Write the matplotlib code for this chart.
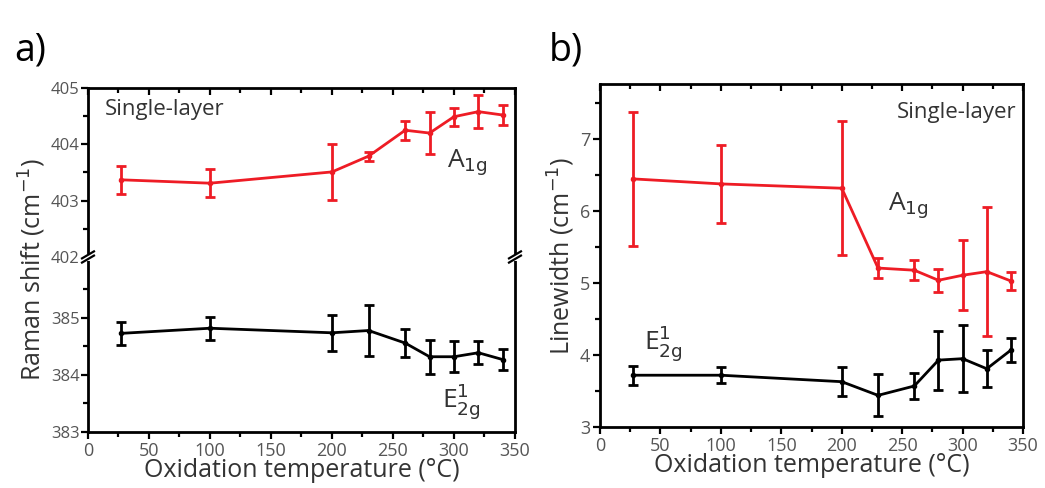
import numpy as np
import matplotlib.pyplot as plt

plt.rcParams['font.family'] = ['Open Sans', 'DejaVu Sans']

# temperaturas de oxidacion
T = [27, 100, 200, 230, 260, 280, 300, 320, 340]

# a) Raman shift
a1g_shift = [403.37, 403.31, 403.51, 403.79, 404.25, 404.20, 404.49, 404.58, 404.52]
a1g_shift_err = [0.25, 0.25, 0.50, 0.08, 0.17, 0.37, 0.16, 0.29, 0.17]
e2g_shift = [384.73, 384.82, 384.74, 384.78, 384.56, 384.32, 384.32, 384.39, 384.27]
e2g_shift_err = [0.20, 0.20, 0.32, 0.44, 0.24, 0.30, 0.27, 0.20, 0.19]

# b) Linewidth
a1g_width = [6.45, 6.38, 6.32, 5.21, 5.18, 5.04, 5.11, 5.16, 5.03]
a1g_width_err = [0.93, 0.54, 0.93, 0.14, 0.14, 0.16, 0.49, 0.90, 0.12]
e2g_width = [3.72, 3.72, 3.63, 3.44, 3.57, 3.93, 3.95, 3.81, 4.07]
e2g_width_err = [0.13, 0.11, 0.20, 0.29, 0.18, 0.41, 0.47, 0.26, 0.17]

RED = '#ee1c25'
TXT = '#333333'
TICK = '#555555'
LW = 2.0
LAB = 18

fig = plt.figure(figsize=(10.45, 4.88), dpi=100)

ax_top = fig.add_axes([0.0842, 0.4734, 0.4086, 0.3463])
ax_bot = fig.add_axes([0.0842, 0.1148, 0.4086, 0.3586])
ax_b = fig.add_axes([0.5742, 0.125, 0.4048, 0.703])


def errline(ax, y, e, color):
    ax.errorbar(T, y, yerr=e, color=color, lw=LW, elinewidth=LW, capsize=3.5,
                capthick=LW, marker='o', ms=3, clip_on=False, zorder=3)


errline(ax_top, a1g_shift, a1g_shift_err, RED)
errline(ax_bot, e2g_shift, e2g_shift_err, 'black')
errline(ax_b, a1g_width, a1g_width_err, RED)
errline(ax_b, e2g_width, e2g_width_err, 'black')

for ax in (ax_top, ax_bot, ax_b):
    ax.set_xlim(0, 350)
    ax.set_xticks(np.arange(0, 351, 50))
    ax.set_xticks(np.arange(25, 350, 50), minor=True)
    for s in ax.spines.values():
        s.set_linewidth(LW)
    ax.tick_params(which='both', width=1.6, labelsize=13, labelcolor=TICK, pad=2)
    ax.tick_params(which='major', length=5)
    ax.tick_params(which='minor', length=3.5)

# eje roto (panel a)
ax_top.set_ylim(402, 405)
ax_top.set_yticks([402, 403, 404, 405])
ax_top.set_yticks([402.5, 403.5, 404.5], minor=True)
ax_top.spines['bottom'].set_visible(False)
ax_top.tick_params(axis='x', which='both', bottom=False, labelbottom=False, top=True)
ax_top.tick_params(axis='y', which='both', right=False, direction='out')
ax_top.tick_params(axis='y', labelsize=12, pad=1)

ax_bot.set_ylim(383, 386.07)
ax_bot.set_yticks([383, 384, 385])
ax_bot.set_yticks([383.5, 384.5, 385.5], minor=True)
ax_bot.spines['top'].set_visible(False)
ax_bot.tick_params(axis='x', which='both', top=False, direction='out')
ax_bot.tick_params(axis='y', which='both', right=False, direction='out')
ax_bot.tick_params(axis='y', labelsize=12, pad=1)
ax_bot.set_xlabel('Oxidation temperature (°C)', fontsize=LAB, color=TXT, labelpad=-1)

# marcas de corte //
for xpos in (0, 1):
    ax_bot.plot([xpos - 0.012, xpos + 0.012], [1.0, 1.0], transform=ax_bot.transAxes,
                color='white', lw=5, clip_on=False, zorder=5)
    for dy in (-0.012, 0.012):
        ax_bot.plot([xpos - 0.014, xpos + 0.014], [1.0 + dy - 0.02, 1.0 + dy + 0.02],
                    transform=ax_bot.transAxes, color='black', lw=1.6,
                    clip_on=False, zorder=6)

fig.text(0.031, 0.447, 'Raman shift (cm$^{-1}$)', rotation=90, fontsize=LAB,
         color=TXT, ha='center', va='center')

ax_top.text(0.04, 0.84, 'Single-layer', transform=ax_top.transAxes, fontsize=16,
            color=TXT)
ax_top.text(0.84, 0.53, r'A$_{\mathrm{1g}}$', transform=ax_top.transAxes, fontsize=19,
            color=TXT)
ax_bot.text(0.83, 0.14, r'E$_{\mathrm{2g}}^{\mathrm{1}}$', transform=ax_bot.transAxes,
            fontsize=19, color=TXT)

# panel b
ax_b.set_ylim(3, 7.77)
ax_b.set_yticks([3, 4, 5, 6, 7])
ax_b.set_yticks([3.5, 4.5, 5.5, 6.5, 7.5], minor=True)
ax_b.tick_params(axis='y', which='both', right=False, direction='out')
ax_b.tick_params(axis='x', which='both', top=True, direction='out')
ax_b.set_xlabel('Oxidation temperature (°C)', fontsize=LAB, color=TXT, labelpad=-1)
ax_b.set_ylabel('Linewidth (cm$^{-1}$)', fontsize=LAB, color=TXT, labelpad=2)
ax_b.text(0.985, 0.90, 'Single-layer', transform=ax_b.transAxes, fontsize=16,
          color=TXT, ha='right')
ax_b.text(0.68, 0.63, r'A$_{\mathrm{1g}}$', transform=ax_b.transAxes, fontsize=19,
          color=TXT)
ax_b.text(0.105, 0.225, r'E$_{\mathrm{2g}}^{\mathrm{1}}$', transform=ax_b.transAxes,
          fontsize=19, color=TXT)

# ticks superiores hacia adentro
for ax in (ax_top, ax_b):
    for t in ax.xaxis.get_major_ticks() + ax.xaxis.get_minor_ticks():
        t.tick2line.set_marker(3)

fig.text(0.014, 0.875, 'a)', fontsize=27, color='black')
fig.text(0.525, 0.875, 'b)', fontsize=27, color='black')

fig.savefig('out.png', dpi=100)
